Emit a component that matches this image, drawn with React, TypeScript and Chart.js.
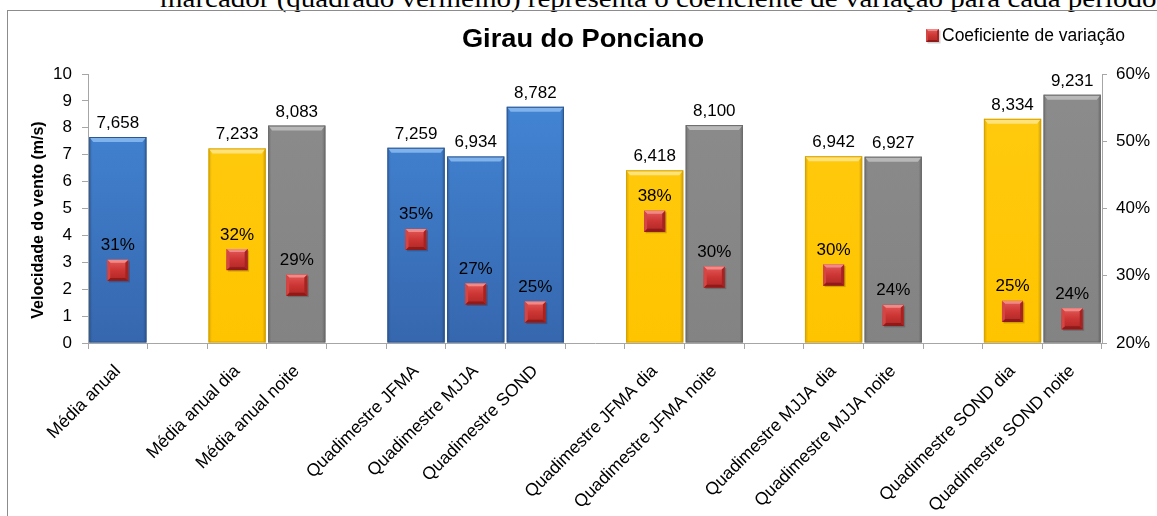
import React, { useEffect, useRef } from 'react';
import { Chart, registerables } from 'chart.js';

Chart.register(...registerables);

// ---------------- data ----------------
const categories: string[] = [
  'Média anual', '',
  'Média anual dia', 'Média anual noite', '',
  'Quadimestre JFMA', 'Quadimestre MJJA', 'Quadimestre SOND', '',
  'Quadimestre JFMA dia', 'Quadimestre JFMA noite', '',
  'Quadimestre MJJA dia', 'Quadimestre MJJA noite', '',
  'Quadimestre SOND dia', 'Quadimestre SOND noite',
];
const barKinds: string[] = [
  'annual', '',
  'day', 'night', '',
  'annual', 'annual', 'annual', '',
  'day', 'night', '',
  'day', 'night', '',
  'day', 'night',
];
const windSpeed: (number | null)[] = [
  7.658, null,
  7.233, 8.083, null,
  7.259, 6.934, 8.782, null,
  6.418, 8.1, null,
  6.942, 6.927, null,
  8.334, 9.231,
];
const variationCoef: (number | null)[] = [
  30.8, null,
  32.4, 28.6, null,
  35.4, 27.3, 24.6, null,
  38.1, 29.8, null,
  30.1, 24.1, null,
  24.7, 23.6,
];
const speedMin = 0;
const speedMax = 10;
const speedStep = 1;
const cvMin = 20;
const cvMax = 60;
const cvStep = 10;
const chartTitle = 'Girau do Ponciano';
const legendLabel = 'Coeficiente de variação';
const speedAxisTitle = 'Velocidade do vento (m/s)';
const captionText =
  'marcador (quadrado vermelho) representa o coeficiente de variação para cada período';

// ---------------- styles ----------------
const FONT = '"Liberation Sans", Arial, sans-serif';
const kindColors: Record<string, { top: string; bottom: string; border: string; cap: string }> = {
  annual: { top: '#4488D8', bottom: '#3667AE', border: '#2C568F', cap: '#80B2EC' },
  day: { top: '#FFCB10', bottom: '#FFC400', border: '#D9A200', cap: '#FFE27A' },
  night: { top: '#8C8C8C', bottom: '#838383', border: '#6A6A6A', cap: '#B8B8B8' },
};

const fmtSpeed = (v: number) => v.toFixed(3).replace('.', ',');
const fmtCv = (v: number) => Math.round(v) + '%';

function stretchedText(ctx: CanvasRenderingContext2D, text: string, x: number, y: number, sx: number) {
  ctx.save();
  ctx.translate(x, y);
  ctx.scale(sx, 1);
  ctx.fillText(text, 0, 0);
  ctx.restore();
}

const decorPlugin = {
  id: 'decor',
  afterDatasetDraw(chart: any, args: any) {
    const ctx = chart.ctx as CanvasRenderingContext2D;
    const meta = args.meta;
    if (meta.type === 'bar') {
      meta.data.forEach((el: any, i: number) => {
        const v = windSpeed[i];
        if (v == null) return;
        const c = kindColors[barKinds[i]];
        const p = el.getProps(['x', 'y', 'base', 'width'], true);
        const L = p.x - p.width / 2;
        const R = p.x + p.width / 2;
        const T = p.y;
        const B = p.base;
        ctx.save();
        const g = ctx.createLinearGradient(L, 0, R, 0);
        g.addColorStop(0, 'rgba(0,0,0,0.16)');
        g.addColorStop(0.06, 'rgba(0,0,0,0)');
        g.addColorStop(0.94, 'rgba(0,0,0,0)');
        g.addColorStop(1, 'rgba(0,0,0,0.22)');
        ctx.fillStyle = g;
        ctx.fillRect(L, T, R - L, B - T);
        ctx.beginPath();
        ctx.moveTo(L + 0.5, T + 0.5);
        ctx.lineTo(R - 0.5, T + 0.5);
        ctx.lineTo(R - 4, T + 5);
        ctx.lineTo(L + 4, T + 5);
        ctx.closePath();
        ctx.fillStyle = c.cap;
        ctx.fill();
        ctx.strokeStyle = c.border;
        ctx.lineWidth = 1;
        ctx.strokeRect(L + 0.5, T + 0.5, R - L - 1, B - T - 1);
        ctx.restore();
      });
    } else if (meta.type === 'line') {
      meta.data.forEach((el: any, i: number) => {
        const v = variationCoef[i];
        if (v == null) return;
        const { x, y } = el.getProps(['x', 'y'], true);
        drawMarker(ctx, x, y, 10.5);
      });
    }
  },
  afterDatasetsDraw(chart: any) {
    const ctx = chart.ctx as CanvasRenderingContext2D;
    ctx.save();
    ctx.fillStyle = '#000';
    ctx.textAlign = 'center';
    ctx.textBaseline = 'alphabetic';
    ctx.font = `17px ${FONT}`;
    const barMeta = chart.getDatasetMeta(0);
    barMeta.data.forEach((el: any, i: number) => {
      const v = windSpeed[i];
      if (v == null) return;
      const { x, y } = el.getProps(['x', 'y'], true);
      ctx.fillText(fmtSpeed(v), x, y - 9);
    });
    const lineMeta = chart.getDatasetMeta(1);
    lineMeta.data.forEach((el: any, i: number) => {
      const v = variationCoef[i];
      if (v == null) return;
      const { x, y } = el.getProps(['x', 'y'], true);
      ctx.fillText(fmtCv(v), x, y - 20);
    });
    // title
    ctx.font = `bold 25px ${FONT}`;
    stretchedText(ctx, chartTitle, 583, 47, 1.09);
    // y axis title
    ctx.save();
    ctx.translate(43, 220);
    ctx.rotate(-Math.PI / 2);
    ctx.font = `bold 16px ${FONT}`;
    ctx.fillText(speedAxisTitle, 0, 0);
    ctx.restore();
    // legend
    drawMarker(ctx, 932.5, 35.5, 6.5);
    ctx.textAlign = 'left';
    ctx.font = `17.5px ${FONT}`;
    ctx.fillText(legendLabel, 942, 41);
    ctx.restore();
  },
};

function drawMarker(ctx: CanvasRenderingContext2D, x: number, y: number, h: number) {
  ctx.save();
  const L = x - h, R = x + h, T = y - h, B = y + h;
  ctx.fillStyle = 'rgba(0,0,0,0.18)';
  ctx.fillRect(L + 1.5, T + 1.5, 2 * h, 2 * h);
  const g = ctx.createLinearGradient(0, T, 0, B);
  g.addColorStop(0, '#E45A58');
  g.addColorStop(0.5, '#CC3634');
  g.addColorStop(1, '#B02624');
  ctx.fillStyle = g;
  ctx.fillRect(L, T, 2 * h, 2 * h);
  const bev = Math.max(2, h * 0.28);
  ctx.beginPath();
  ctx.moveTo(L, T); ctx.lineTo(R, T); ctx.lineTo(R - bev, T + bev); ctx.lineTo(L + bev, T + bev); ctx.closePath();
  ctx.fillStyle = '#F08A88';
  ctx.fill();
  ctx.beginPath();
  ctx.moveTo(L, B); ctx.lineTo(R, B); ctx.lineTo(R - bev, B - bev); ctx.lineTo(L + bev, B - bev); ctx.closePath();
  ctx.fillStyle = '#8E1A1A';
  ctx.fill();
  ctx.beginPath();
  ctx.moveTo(R, T); ctx.lineTo(R, B); ctx.lineTo(R - bev, B - bev); ctx.lineTo(R - bev, T + bev); ctx.closePath();
  ctx.fillStyle = '#A52422';
  ctx.fill();
  ctx.beginPath();
  ctx.moveTo(L, T); ctx.lineTo(L, B); ctx.lineTo(L + bev, B - bev); ctx.lineTo(L + bev, T + bev); ctx.closePath();
  ctx.fillStyle = '#D44644';
  ctx.fill();
  ctx.restore();
}

export default function App() {
  const canvasRef = useRef<HTMLCanvasElement | null>(null);

  useEffect(() => {
    document.body.style.margin = '0';
    document.body.style.background = '#fff';
    const canvas = canvasRef.current;
    if (!canvas) return;
    const axisColor = '#A6A6A6';
    const tickFont = { family: FONT, size: 17 };
    const chart = new Chart(canvas, {
      type: 'bar',
      data: {
        labels: categories,
        datasets: [
          {
            type: 'bar',
            label: 'Velocidade',
            data: windSpeed,
            yAxisID: 'y',
            order: 1,
            backgroundColor: (ctx: any) => {
              const kind = barKinds[ctx.dataIndex];
              const c = kindColors[kind] || kindColors.annual;
              const area = ctx.chart.chartArea;
              if (!area) return c.top;
              const g = ctx.chart.ctx.createLinearGradient(0, area.top, 0, area.bottom);
              g.addColorStop(0, c.top);
              g.addColorStop(1, c.bottom);
              return g;
            },
            borderWidth: 0,
            barPercentage: 0.96,
            categoryPercentage: 1,
          } as any,
          {
            type: 'line',
            label: legendLabel,
            data: variationCoef,
            yAxisID: 'y1',
            order: 0,
            showLine: false,
            pointStyle: 'rect',
            pointRadius: 15,
            pointBackgroundColor: '#CC3634',
            pointBorderWidth: 0,
            spanGaps: false,
          } as any,
        ],
      },
      options: {
        responsive: false,
        animation: false,
        layout: { padding: { top: 74, left: 0, right: 0, bottom: 0 } },
        plugins: {
          legend: { display: false },
          tooltip: { enabled: false },
          title: { display: false },
        },
        scales: {
          x: {
            type: 'category',
            offset: true,
            grid: { drawOnChartArea: false, offset: true, color: axisColor, tickLength: 6 },
            border: { color: axisColor },
            ticks: {
              autoSkip: false,
              maxRotation: 45,
              minRotation: 45,
              color: '#000',
              font: { family: FONT, size: 17.5 },
              padding: 12,
            },
            afterFit: (s: any) => { s.height = 173; },
          },
          y: {
            position: 'left',
            min: speedMin,
            max: speedMax,
            ticks: { stepSize: speedStep, color: '#000', font: tickFont, padding: 10 },
            grid: { drawOnChartArea: false, color: axisColor, tickLength: 6 },
            border: { color: axisColor },
            title: { display: false },
            afterFit: (s: any) => { s.width = 88; },
          },
          y1: {
            position: 'right',
            min: cvMin,
            max: cvMax,
            ticks: {
              stepSize: cvStep,
              color: '#000',
              font: tickFont,
              padding: 9,
              callback: (v: any) => v + '%',
            },
            grid: { drawOnChartArea: false, color: axisColor, tickLength: 5 },
            border: { color: axisColor },
            afterFit: (s: any) => { s.width = 55; },
          },
        },
      } as any,
      plugins: [decorPlugin],
    });
    return () => chart.destroy();
  }, []);

  return (
    <div style={{ position: 'relative', width: 1157, height: 516, overflow: 'hidden', background: '#fff' }}>
      <div
        style={{
          position: 'absolute', left: 160, top: -14, fontFamily: '"Liberation Serif", "Times New Roman", serif',
          fontSize: 26, lineHeight: '26px', whiteSpace: 'nowrap', color: '#000',
          transform: 'scaleX(1.115)', transformOrigin: '0 0',
        }}
      >
        {captionText}
      </div>
      <div
        style={{
          position: 'absolute', left: 7, top: 10, width: 1300, height: 700,
          border: '1px solid #8C8C8C', boxSizing: 'border-box',
        }}
      />
      <canvas
        ref={canvasRef}
        width={1157}
        height={516}
        style={{ position: 'absolute', left: 0, top: 0, width: 1157, height: 516 }}
      />
    </div>
  );
}
